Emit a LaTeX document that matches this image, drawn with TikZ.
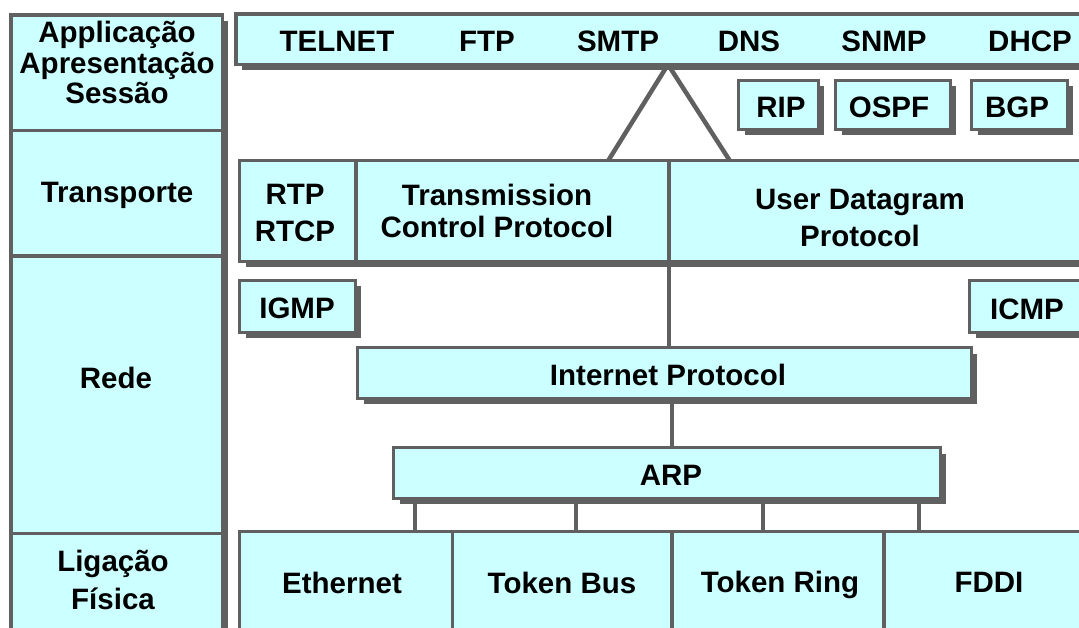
\documentclass[tikz,border=0pt]{standalone}
\usepackage{fontspec}
\setmainfont{Liberation Sans}
\usetikzlibrary{backgrounds}
\definecolor{cellfill}{HTML}{CCFFFF}
\definecolor{edgegray}{HTML}{606060}
\begin{document}
\begin{tikzpicture}[x=1pt,y=-1pt,
  cell/.style={draw=edgegray, fill=cellfill, line width=3.5pt, inner sep=0pt, outer sep=0pt, anchor=north west},
  shadowline/.style={draw=edgegray, line width=7pt, line join=miter},
  conn/.style={draw=edgegray, line width=4.5pt},
  lbl/.style={font=\fontsize{29.5}{30.5}\selectfont\bfseries, inner sep=0pt, align=center, text=black},
  lblb/.style={lbl, anchor=base}]
\useasboundingbox (0,0) rectangle (1079,628);
\clip (0,0) rectangle (1079,628);

% left column
\node[cell, minimum width=211.5pt, minimum height=115.5pt] (lapp) at (11,15) {};
\node[cell, minimum width=211.5pt, minimum height=125.5pt] (ltra) at (11,130.5) {};
\node[cell, minimum width=211.5pt, minimum height=277.5pt] (lred) at (11,256) {};
\node[cell, minimum width=211.5pt, minimum height=166.5pt] (llig) at (11,533.5) {};
\draw[shadowline] ([shift={(2,6)}]lapp.north east) -- ([shift={(2,2)}]llig.south east);

% application layer
\node[cell, minimum width=874pt, minimum height=50.5pt] (app) at (236,14) {};
\draw[shadowline] ([shift={(2,6)}]app.north east) -- ([shift={(2,2)}]app.south east) -- ([shift={(6,2)}]app.south west);

% routing protocols
\node[cell, minimum width=80pt, minimum height=49pt] (rip) at (738.5,80.5) {};
\node[cell, minimum width=115pt, minimum height=49pt] (ospf) at (835.5,80.5) {};
\node[cell, minimum width=96pt, minimum height=49pt] (bgp) at (971.5,80.5) {};
\foreach \n in {rip,ospf,bgp}
  \draw[shadowline] ([shift={(2,6)}]\n.north east) -- ([shift={(2,2)}]\n.south east) -- ([shift={(6,2)}]\n.south west);

% transport row
\node[cell, minimum width=116.5pt, minimum height=101pt] (rtp) at (239.5,160.5) {};
\node[cell, minimum width=313pt, minimum height=101pt] (tcp) at (356,160.5) {};
\node[cell, minimum width=441pt, minimum height=101pt] (udp) at (669,160.5) {};
\draw[shadowline] ([shift={(2,6)}]udp.north east) -- ([shift={(2,2)}]udp.south east) -- ([shift={(6,2)}]rtp.south west);

% network layer
\node[cell, minimum width=116pt, minimum height=52pt] (igmp) at (239.5,280.5) {};
\node[cell, minimum width=140.5pt, minimum height=52pt] (icmp) at (969.5,280.5) {};
\node[cell, minimum width=614pt, minimum height=51pt] (ip) at (357.5,347.5) {};
\node[cell, minimum width=547pt, minimum height=51pt] (arp) at (393.5,447.5) {};
\foreach \n in {igmp,icmp,ip,arp}
  \draw[shadowline] ([shift={(2,6)}]\n.north east) -- ([shift={(2,2)}]\n.south east) -- ([shift={(6,2)}]\n.south west);

% link layer row
\node[cell, minimum width=213pt, minimum height=168.5pt] (eth) at (239.5,531.5) {};
\node[cell, minimum width=219.5pt, minimum height=168.5pt] (tbus) at (452.5,531.5) {};
\node[cell, minimum width=212pt, minimum height=168.5pt] (tring) at (672,531.5) {};
\node[cell, minimum width=226pt, minimum height=168.5pt] (fddi) at (884,531.5) {};

% connectors (behind the boxes)
\coordinate (apex) at (668,64.5);
\coordinate (footl) at (608,161);
\coordinate (footr) at (730,161);
\begin{pgfonlayer}{background}
\draw[conn] (footl) -- (apex) -- (footr);
\draw[conn] (tcp.south east) -- (tcp.south east |- ip.north);
\draw[conn] ([xshift=7.5pt]ip.south) -- ([xshift=7.5pt]ip.south |- arp.north);
\draw[conn] ([xshift=-252pt]arp.south) -- ([xshift=-252pt]arp.south |- eth.north);
\draw[conn] ([xshift=-91pt]arp.south) -- ([xshift=-91pt]arp.south |- tbus.north);
\draw[conn] ([xshift=96pt]arp.south) -- ([xshift=96pt]arp.south |- tring.north);
\draw[conn] ([xshift=252pt]arp.south) -- ([xshift=252pt]arp.south |- fddi.north);
\end{pgfonlayer}

% labels of the left column
\node[lbl] (tapp) at (117,62.5) {Applicação\\Apresentação\\Sessão};
\node[lblb] (ttra) at (117,203) {Transporte};
\node[lblb] (tred) at (116,388) {Rede};
\node[lbl, font=\fontsize{29.5}{38}\selectfont\bfseries] (tlig) at (113,580) {Ligação\\Física};

% application protocols
\node[lblb] (ttelnet) at (337,52) {TELNET};
\node[lblb] (tftp) at (487,52) {FTP};
\node[lblb] (tsmtp) at (618,52) {SMTP};
\node[lblb] (tdns) at (749,52) {DNS};
\node[lblb] (tsnmp) at (884,52) {SNMP};
\node[lblb] (tdhcp) at (1030,52) {DHCP};

\node[lblb] (trip) at (781,117.5) {RIP};
\node[lblb] (tospf) at (889,118) {OSPF};
\node[lblb] (tbgp) at (1017,118) {BGP};

% transport
\node[lbl, font=\fontsize{29.5}{37}\selectfont\bfseries] (trtp) at (295,213) {RTP\\RTCP};
\node[lbl, font=\fontsize{29.5}{32}\selectfont\bfseries] (ttcp) at (497,210.5) {Transmission\\Control Protocol};
\node[lbl, font=\fontsize{29.5}{37}\selectfont\bfseries] (tudp) at (860,218) {User Datagram\\Protocol};

% network
\node[lblb] (tigmp) at (297,318.5) {IGMP};
\node[lblb] (ticmp) at (1027,319.5) {ICMP};
\node[lblb] (tip) at (668,385) {Internet Protocol};
\node[lblb] (tarp) at (671,485) {ARP};

% link
\node[lblb] (teth) at (342,593) {Ethernet};
\node[lblb] (ttbus) at (562,593) {Token Bus};
\node[lblb] (ttring) at (780,592.5) {Token Ring};
\node[lblb] (tfddi) at (989,592.5) {FDDI};
\end{tikzpicture}
\end{document}
